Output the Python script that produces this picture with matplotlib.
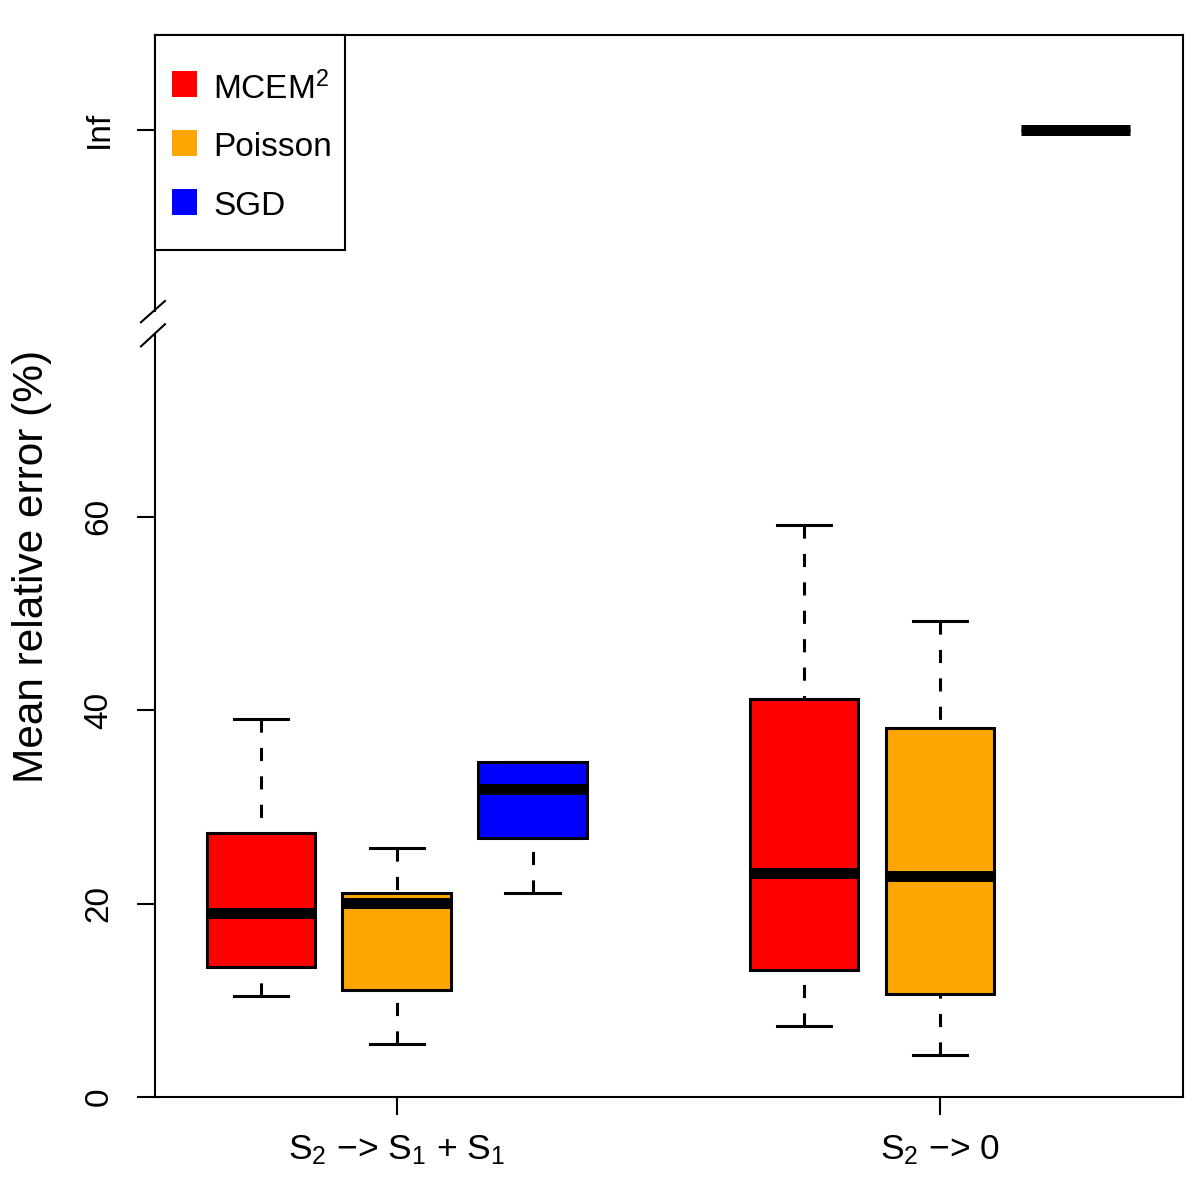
import numpy as np
import matplotlib
matplotlib.use("Agg")
import matplotlib.pyplot as plt
from matplotlib.patches import Rectangle
import matplotlib.transforms as mtransforms

plt.rcParams['font.family'] = ['Liberation Sans', 'DejaVu Sans']
plt.rcParams['mathtext.fontset'] = 'custom'
plt.rcParams['mathtext.rm'] = 'Liberation Sans'
plt.rcParams['mathtext.it'] = 'Liberation Sans:italic'
plt.rcParams['mathtext.bf'] = 'Liberation Sans:bold'

# ---- data ----
methods = ['MCEM$^2$', 'Poisson', 'SGD']
colors = ['#FF0000', '#FFA500', '#0000FF']
reactions = [r'S$\mathregular{_2}$ −> S$\mathregular{_1}$ + S$\mathregular{_1}$',
             r'S$\mathregular{_2}$ −> 0']
# per box: group1 (MCEM, Poisson, SGD), group2 (MCEM, Poisson, SGD)
whislo = [10.4, 5.5, 21.1, 7.3, 4.3, np.inf]
q1     = [13.4, 11.1, 26.8, 13.1, 10.6, np.inf]
med    = [19.0, 20.1, 31.8, 23.2, 22.9, np.inf]
q3     = [27.3, 21.1, 34.6, 41.1, 38.2, np.inf]
whishi = [39.1, 25.7, 34.6, 59.1, 49.2, np.inf]
positions = [1, 2, 3, 5, 6, 7]
yticks = [0, 20, 40, 60]
INF_POS = 100  # where Inf is drawn on the broken axis

def place(v):
    return INF_POS if np.isinf(v) else v

stats = []
for i in range(len(positions)):
    stats.append(dict(whislo=place(whislo[i]), q1=place(q1[i]), med=place(med[i]),
                      q3=place(q3[i]), whishi=place(whishi[i]), fliers=[]))

fig = plt.figure(figsize=(12, 12), dpi=100)
ax = fig.add_axes([155/1200, 1 - 1097/1200, 1028/1200, 1062/1200])

lw = 2.2
res = ax.bxp(stats, positions=positions, widths=0.8, patch_artist=True,
             showfliers=False, capwidths=0.4,
             boxprops=dict(linewidth=lw, edgecolor='black'),
             medianprops=dict(linewidth=7.9, color='black', solid_capstyle='butt'),
             whiskerprops=dict(linewidth=lw, color='black', linestyle=(0, (4.3, 5.0))),
             capprops=dict(linewidth=lw, color='black'))
for i, b in enumerate(res['boxes']):
    b.set_facecolor(colors[i % 3])
for w in res['whiskers']:
    w.set_ydata(w.get_ydata()[::-1])

ax.set_xlim(0.22, 7.79)
ax.set_ylim(0, 109.8)

ax.set_xticks([2, 6])
ax.set_xticklabels(reactions, fontsize=25.5)
ax.set_yticks(yticks + [INF_POS])
ax.set_yticklabels([str(t) for t in yticks] + ['Inf'], fontsize=24,
                   rotation=90, va='center')
ax.tick_params(axis='both', length=13, width=1.5, direction='out')
ax.tick_params(axis='y', pad=16)
ax.tick_params(axis='x', pad=13)
for s in ax.spines.values():
    s.set_linewidth(1.5)

ax.set_ylabel('Mean relative error (%)', fontsize=30.5)
ax.yaxis.set_label_coords(-0.1, 0.5)

# axis break on the left side
trans = mtransforms.blended_transform_factory(ax.transAxes, ax.transData)
ax.add_patch(Rectangle((-0.008, 79.0), 0.016, 2.2, transform=trans,
                       facecolor='white', edgecolor='none', clip_on=False, zorder=10))
ax.plot([-0.0137, 0.0097], [80.1, 82.3], transform=trans, color='black',
        lw=1.5, clip_on=False, zorder=11)
ax.plot([-0.0137, 0.0097], [77.6, 79.9], transform=trans, color='black',
        lw=1.5, clip_on=False, zorder=11)

# legend (R-style box in the top-left corner)
W, H = 1028.0, 1062.0
def ax_xy(px, py):
    return (px - 155) / W, (1097 - py) / H

fx, fy = ax_xy(155, 250)
ax.add_patch(Rectangle((fx, fy), 190 / W, 215 / H, transform=ax.transAxes,
                       facecolor='white', edgecolor='black', lw=1.5, zorder=12,
                       clip_on=False))
row_centers = [84, 143, 202]
for i, (lab, c) in enumerate(zip(methods, colors)):
    sx, sy = ax_xy(172, row_centers[i] + 12.5)
    ax.add_patch(Rectangle((sx, sy), 25 / W, 25 / H, transform=ax.transAxes,
                           facecolor=c, edgecolor='none', zorder=13))
    tx, ty = ax_xy(213, row_centers[i] + 1)
    ax.text(tx, ty, lab, transform=ax.transAxes, fontsize=24, ha='left',
            va='center_baseline', zorder=14)

fig.savefig('out.png', dpi=100)
